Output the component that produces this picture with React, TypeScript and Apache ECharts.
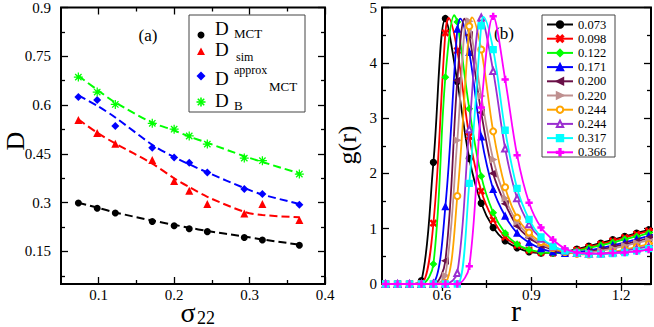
import React, { useEffect, useRef } from "react";
import * as echarts from "echarts";

// ---------- Panel (a) data ----------
const sigma22 = [0.073, 0.098, 0.122, 0.171, 0.2, 0.22, 0.244, 0.293, 0.317, 0.366];
const dMct = [0.299, 0.283, 0.268, 0.242, 0.229, 0.22, 0.211, 0.193, 0.185, 0.169];
const dSim = [0.554, 0.514, 0.481, 0.431, 0.367, 0.337, 0.296, 0.267, 0.296, 0.247];
const dApprox = [0.625, 0.616, 0.536, 0.469, 0.439, 0.423, 0.393, 0.342, 0.327, 0.294];
const dB = [0.686, 0.64, 0.602, 0.544, 0.526, 0.505, 0.48, 0.437, 0.429, 0.388];
const fitMct = [0.3, 0.285, 0.27, 0.245, 0.232, 0.223, 0.213, 0.196, 0.187, 0.171];
const fitSim = [0.556, 0.515, 0.482, 0.42, 0.375, 0.348, 0.318, 0.272, 0.262, 0.255];
const fitApprox = [0.63, 0.598, 0.562, 0.478, 0.44, 0.418, 0.393, 0.345, 0.325, 0.296];
const fitB = [0.69, 0.647, 0.608, 0.546, 0.522, 0.503, 0.484, 0.443, 0.425, 0.39];
const aXMajor = [0.1, 0.2, 0.3, 0.4];
const aXMinor = [0.15, 0.25, 0.35];
const aYMajor = [0.15, 0.3, 0.45, 0.6, 0.75, 0.9];
const aYMinor = [0.075, 0.225, 0.375, 0.525, 0.675, 0.825];

// ---------- Panel (b) data ----------
const rGrid = [0.412, 0.452, 0.492, 0.532, 0.572, 0.612, 0.652, 0.692, 0.732, 0.772, 0.812, 0.852,
  0.892, 0.932, 0.972, 1.012, 1.052, 1.092, 1.132, 1.172, 1.212, 1.252, 1.292, 1.332];
const g073 = [0, 0, 0, 0.06, 2.2, 4.8, 3.66, 2.27, 1.46, 1.02, 0.78, 0.655, 0.58, 0.56, 0.56, 0.585, 0.63, 0.685, 0.74, 0.8, 0.86, 0.92, 0.98, 1.03];
const g098 = [0, 0, 0, 0.01, 1.1, 4.54, 4.22, 2.67, 1.68, 1.16, 0.85, 0.7, 0.61, 0.57, 0.56, 0.575, 0.615, 0.665, 0.72, 0.78, 0.84, 0.9, 0.96, 1.01];
const g122 = [0, 0, 0, 0, 0.36, 3.74, 4.74, 3.17, 1.95, 1.29, 0.92, 0.72, 0.62, 0.575, 0.56, 0.565, 0.6, 0.65, 0.7, 0.75, 0.81, 0.86, 0.92, 0.97];
const g171 = [0, 0, 0, 0, 0.02, 1.4, 4.61, 4.19, 2.66, 1.71, 1.23, 0.92, 0.75, 0.64, 0.58, 0.555, 0.57, 0.61, 0.65, 0.7, 0.75, 0.81, 0.87, 0.92];
const g200 = [0, 0, 0, 0, 0, 0.42, 3.68, 4.5, 3.1, 2.0, 1.45, 1.05, 0.84, 0.7, 0.62, 0.575, 0.555, 0.58, 0.62, 0.67, 0.72, 0.77, 0.83, 0.88];
const g220 = [0, 0, 0, 0, 0, 0.15, 2.6, 4.75, 3.4, 2.25, 1.55, 1.12, 0.88, 0.73, 0.64, 0.59, 0.555, 0.565, 0.6, 0.64, 0.69, 0.74, 0.79, 0.84];
const g244a = [0, 0, 0, 0, 0, 0.02, 1.59, 4.66, 4.24, 2.76, 1.75, 1.2, 0.93, 0.76, 0.65, 0.58, 0.545, 0.535, 0.55, 0.58, 0.62, 0.67, 0.72, 0.77];
const g244b = [0, 0, 0, 0, 0, 0, 0.2, 2.8, 4.82, 3.85, 2.45, 1.55, 1.08, 0.82, 0.68, 0.6, 0.56, 0.545, 0.55, 0.57, 0.6, 0.64, 0.68, 0.72];
const g317 = [0, 0, 0, 0, 0, 0, 0, 1.82, 4.67, 4.24, 2.78, 1.73, 1.17, 0.85, 0.68, 0.6, 0.56, 0.54, 0.54, 0.55, 0.57, 0.6, 0.64, 0.68];
const g366 = [0, 0, 0, 0, 0, 0, 0, 0.32, 3.19, 4.84, 3.7, 2.33, 1.47, 1.02, 0.8, 0.64, 0.57, 0.55, 0.55, 0.56, 0.57, 0.59, 0.62, 0.64];
const curveLabels = ["0.073", "0.098", "0.122", "0.171", "0.200", "0.220", "0.244", "0.244", "0.317", "0.366"];
const curveValues = [g073, g098, g122, g171, g200, g220, g244a, g244b, g317, g366];
const peakR = [null, 0.623, 0.642, 0.662, 0.676, 0.685, 0.701, null, 0.739, null];
const peakG = [null, 4.81, 4.86, 4.8, 4.8, 4.8, 4.82, null, 4.83, null];
const bXMajor = [0.6, 0.9, 1.2];
const bXMinor = [0.45, 0.75, 1.05];
const bYMajor = [0, 1, 2, 3, 4, 5];
const bYMinor = [0.5, 1.5, 2.5, 3.5, 4.5];

// ---------- styles ----------
const FONT = "Liberation Serif";
const curveColors = ["#000000", "#ff0000", "#00ff00", "#0000ff", "#6a1048", "#bf9090", "#ffa500", "#9a2fd0", "#00ffff", "#ff00ff"];
const PLUS = "path://M4,0H6V4H10V6H6V10H4V6H0V4H4Z";
const CROSS = "path://M1.4,0L5,3.6L8.6,0L10,1.4L6.4,5L10,8.6L8.6,10L5,6.4L1.4,10L0,8.6L3.6,5L0,1.4Z";
const TRI_L = "path://M0,5L10,0L10,10Z";
const TRI_R = "path://M10,5L0,0L0,10Z";
const ASTER = "path://M4.3,0H5.7V10H4.3ZM0,4.3H10V5.7H0ZM1.96,0.96L9.04,8.04L8.04,9.04L0.96,1.96ZM9.04,1.96L1.96,9.04L0.96,8.04L8.04,0.96Z";
const curveSymbols = ["circle", CROSS, "diamond", "triangle", TRI_L, TRI_R, "emptyCircle", "emptyTriangle", "rect", PLUS];

function makeAxes(dir: "x" | "y", gridIndex: number, min: number, max: number, major: number[], minor: number[], margin: number) {
  const p1 = dir === "x" ? "bottom" : "left";
  const p2 = dir === "x" ? "top" : "right";
  const base = { type: "value", gridIndex, min, max, splitLine: { show: false }, axisLine: { show: false } };
  const tick = (vals: number[], len: number) => ({
    show: true, inside: true, length: len, customValues: vals, lineStyle: { color: "#000", width: 1.3 },
  });
  return [
    { ...base, position: p1, axisTick: tick(major, 7),
      axisLabel: { show: true, customValues: major, margin, fontSize: 15, fontFamily: FONT, color: "#000" } },
    { ...base, position: p1, axisTick: tick(minor, 4), axisLabel: { show: false } },
    { ...base, position: p2, axisTick: tick(major, 7), axisLabel: { show: false } },
    { ...base, position: p2, axisTick: tick(minor, 4), axisLabel: { show: false } },
  ];
}

function buildCurve(i: number) {
  const g = curveValues[i];
  const pts: any[] = rGrid.map((r, k) => ({ value: [r, g[k]] }));
  const pr = peakR[i];
  if (pr != null) {
    const idx = pts.findIndex((p) => p.value[0] > pr);
    pts.splice(idx, 0, { value: [pr, peakG[i]], symbol: "none" });
  }
  return pts;
}

function buildOption() {
  const xAxis = [
    ...makeAxes("x", 0, 0.05, 0.4, aXMajor, aXMinor, 3),
    ...makeAxes("x", 1, 0.4, 1.3, bXMajor, bXMinor, 3),
  ];
  const yAxis = [
    ...makeAxes("y", 0, 0.05, 0.9, aYMajor, aYMinor, 10),
    ...makeAxes("y", 1, 0, 5, bYMajor, bYMinor, 5),
  ];
  const aSets = [
    { name: "D_MCT", pts: dMct, fit: fitMct, color: "#000000", symbol: "circle", size: 7 },
    { name: "D_sim", pts: dSim, fit: fitSim, color: "#ff0000", symbol: "triangle", size: 8 },
    { name: "D_MCT^approx", pts: dApprox, fit: fitApprox, color: "#0000ff", symbol: "diamond", size: 8 },
    { name: "D_B", pts: dB, fit: fitB, color: "#00ff00", symbol: ASTER, size: 9 },
  ];
  const series: any[] = [];
  aSets.forEach((s) => {
    series.push({
      type: "line", name: s.name + " fit", xAxisIndex: 0, yAxisIndex: 0,
      data: sigma22.map((x, i) => [x, s.fit[i]]), smooth: 0.3, symbol: "none", showSymbol: false,
      lineStyle: { color: s.color, width: 2, type: [8, 4] }, z: 2,
    });
    series.push({
      type: "scatter", name: s.name, xAxisIndex: 0, yAxisIndex: 0,
      data: sigma22.map((x, i) => [x, s.pts[i]]), symbol: s.symbol, symbolSize: s.size,
      itemStyle: { color: s.color, opacity: 1 }, z: 3,
    });
  });
  const legendNames: string[] = [];
  curveLabels.forEach((lab, i) => {
    const name = legendNames.includes(lab) ? lab + " " : lab;
    legendNames.push(name);
    const c = curveColors[i];
    series.push({
      type: "line", name, xAxisIndex: 4, yAxisIndex: 4, data: buildCurve(i), smooth: 0.35,
      symbol: curveSymbols[i], symbolSize: 6, showAllSymbol: true,
      lineStyle: { color: c, width: 1.8 }, itemStyle: { color: c, borderColor: c, borderWidth: 1.3 },
      z: 3 + i * 0.01,
    });
  });

  const T = (text: string, x: number, y: number, fontSize: number, extra: any = {}) => {
    const { align, lineHeight, ...rest } = extra;
    return {
      type: "text", x, y, ...rest,
      style: { text, fontSize, fontFamily: FONT, fill: "#000", align: align || "left", verticalAlign: "middle",
        lineHeight: lineHeight || fontSize },
    };
  };
  const cx = 201;
  const graphic: any[] = [
    { type: "rect", shape: { x: 189, y: 15, width: 116, height: 97 }, style: { fill: "none", stroke: "#444", lineWidth: 1 } },
    { type: "rect", shape: { x: 542, y: 15, width: 73, height: 142 }, style: { fill: "none", stroke: "#444", lineWidth: 1 }, z: 10 },
    { type: "circle", shape: { cx, cy: 35, r: 3.5 }, style: { fill: "#000" } },
    { type: "polygon", shape: { points: [[197, 55], [205, 55], [201, 47.5]] }, style: { fill: "#ff0000" } },
    { type: "polygon", shape: { points: [[cx, 71.5], [cx + 4.5, 76], [cx, 80.5], [cx - 4.5, 76]] }, style: { fill: "#0000ff" } },
    { type: "line", shape: { x1: cx - 4.5, y1: 102, x2: cx + 4.5, y2: 102 }, style: { stroke: "#00ff00", lineWidth: 1.6 } },
    { type: "line", shape: { x1: cx, y1: 97.5, x2: cx, y2: 106.5 }, style: { stroke: "#00ff00", lineWidth: 1.6 } },
    { type: "line", shape: { x1: cx - 3.2, y1: 98.8, x2: cx + 3.2, y2: 105.2 }, style: { stroke: "#00ff00", lineWidth: 1.6 } },
    { type: "line", shape: { x1: cx + 3.2, y1: 98.8, x2: cx - 3.2, y2: 105.2 }, style: { stroke: "#00ff00", lineWidth: 1.6 } },
    T("D", 215, 28.5, 19, { lineHeight: 15 }), T("MCT", 234, 33, 13, { lineHeight: 10 }),
    T("D", 215, 49.5, 19, { lineHeight: 15 }), T("sim", 236, 56.5, 12, { lineHeight: 9 }),
    T("D", 215, 78, 19, { lineHeight: 15 }), T("approx", 234, 70, 12, { lineHeight: 9 }), T("MCT", 269, 86, 13, { lineHeight: 10 }),
    T("D", 215, 100.5, 19, { lineHeight: 15 }), T("B", 234, 105, 13, { lineHeight: 10 }),
    T("(a)", 148, 35.5, 17, { align: "center" }),
    T("(b)", 504, 33.5, 17, { align: "center" }),
    T("D", 15, 141, 26, { align: "center", rotation: Math.PI / 2, lineHeight: 22 }),
    T("σ", 188, 312, 28, { align: "center", lineHeight: 18 }),
    T("22", 206, 318, 18, { align: "center", lineHeight: 14 }),
    T("g(r)", 347, 145, 26, { align: "center", rotation: Math.PI / 2, lineHeight: 22 }),
    T("r", 516, 310, 30, { align: "center", lineHeight: 20 }),
  ];

  return {
    animation: false,
    backgroundColor: "#ffffff",
    textStyle: { fontFamily: FONT },
    grid: [
      { left: 61, top: 7, width: 264, height: 277, show: true, borderColor: "#000", borderWidth: 2, backgroundColor: "transparent" },
      { left: 382, top: 7, width: 269, height: 277, show: true, borderColor: "#000", borderWidth: 2, backgroundColor: "transparent" },
    ],
    xAxis, yAxis,
    legend: {
      data: legendNames, orient: "vertical", left: 546, top: 15, padding: [3, 0, 0, 0], itemGap: 1.2,
      itemWidth: 26, itemHeight: 8, borderWidth: 0,
      selectedMode: false, formatter: (n: string) => n.trim(),
      textStyle: { fontSize: 12.5, fontFamily: FONT, color: "#000", padding: [0, 0, 0, 0] },
    },
    series,
    graphic,
  };
}

export default function App() {
  const ref = useRef<HTMLDivElement>(null);
  useEffect(() => {
    const chart = echarts.init(ref.current as HTMLDivElement, null, { renderer: "svg" });
    chart.setOption(buildOption() as any);
    return () => chart.dispose();
  }, []);
  return <div ref={ref} style={{ position: "fixed", left: 0, top: 0, width: 654, height: 327 }} />;
}
